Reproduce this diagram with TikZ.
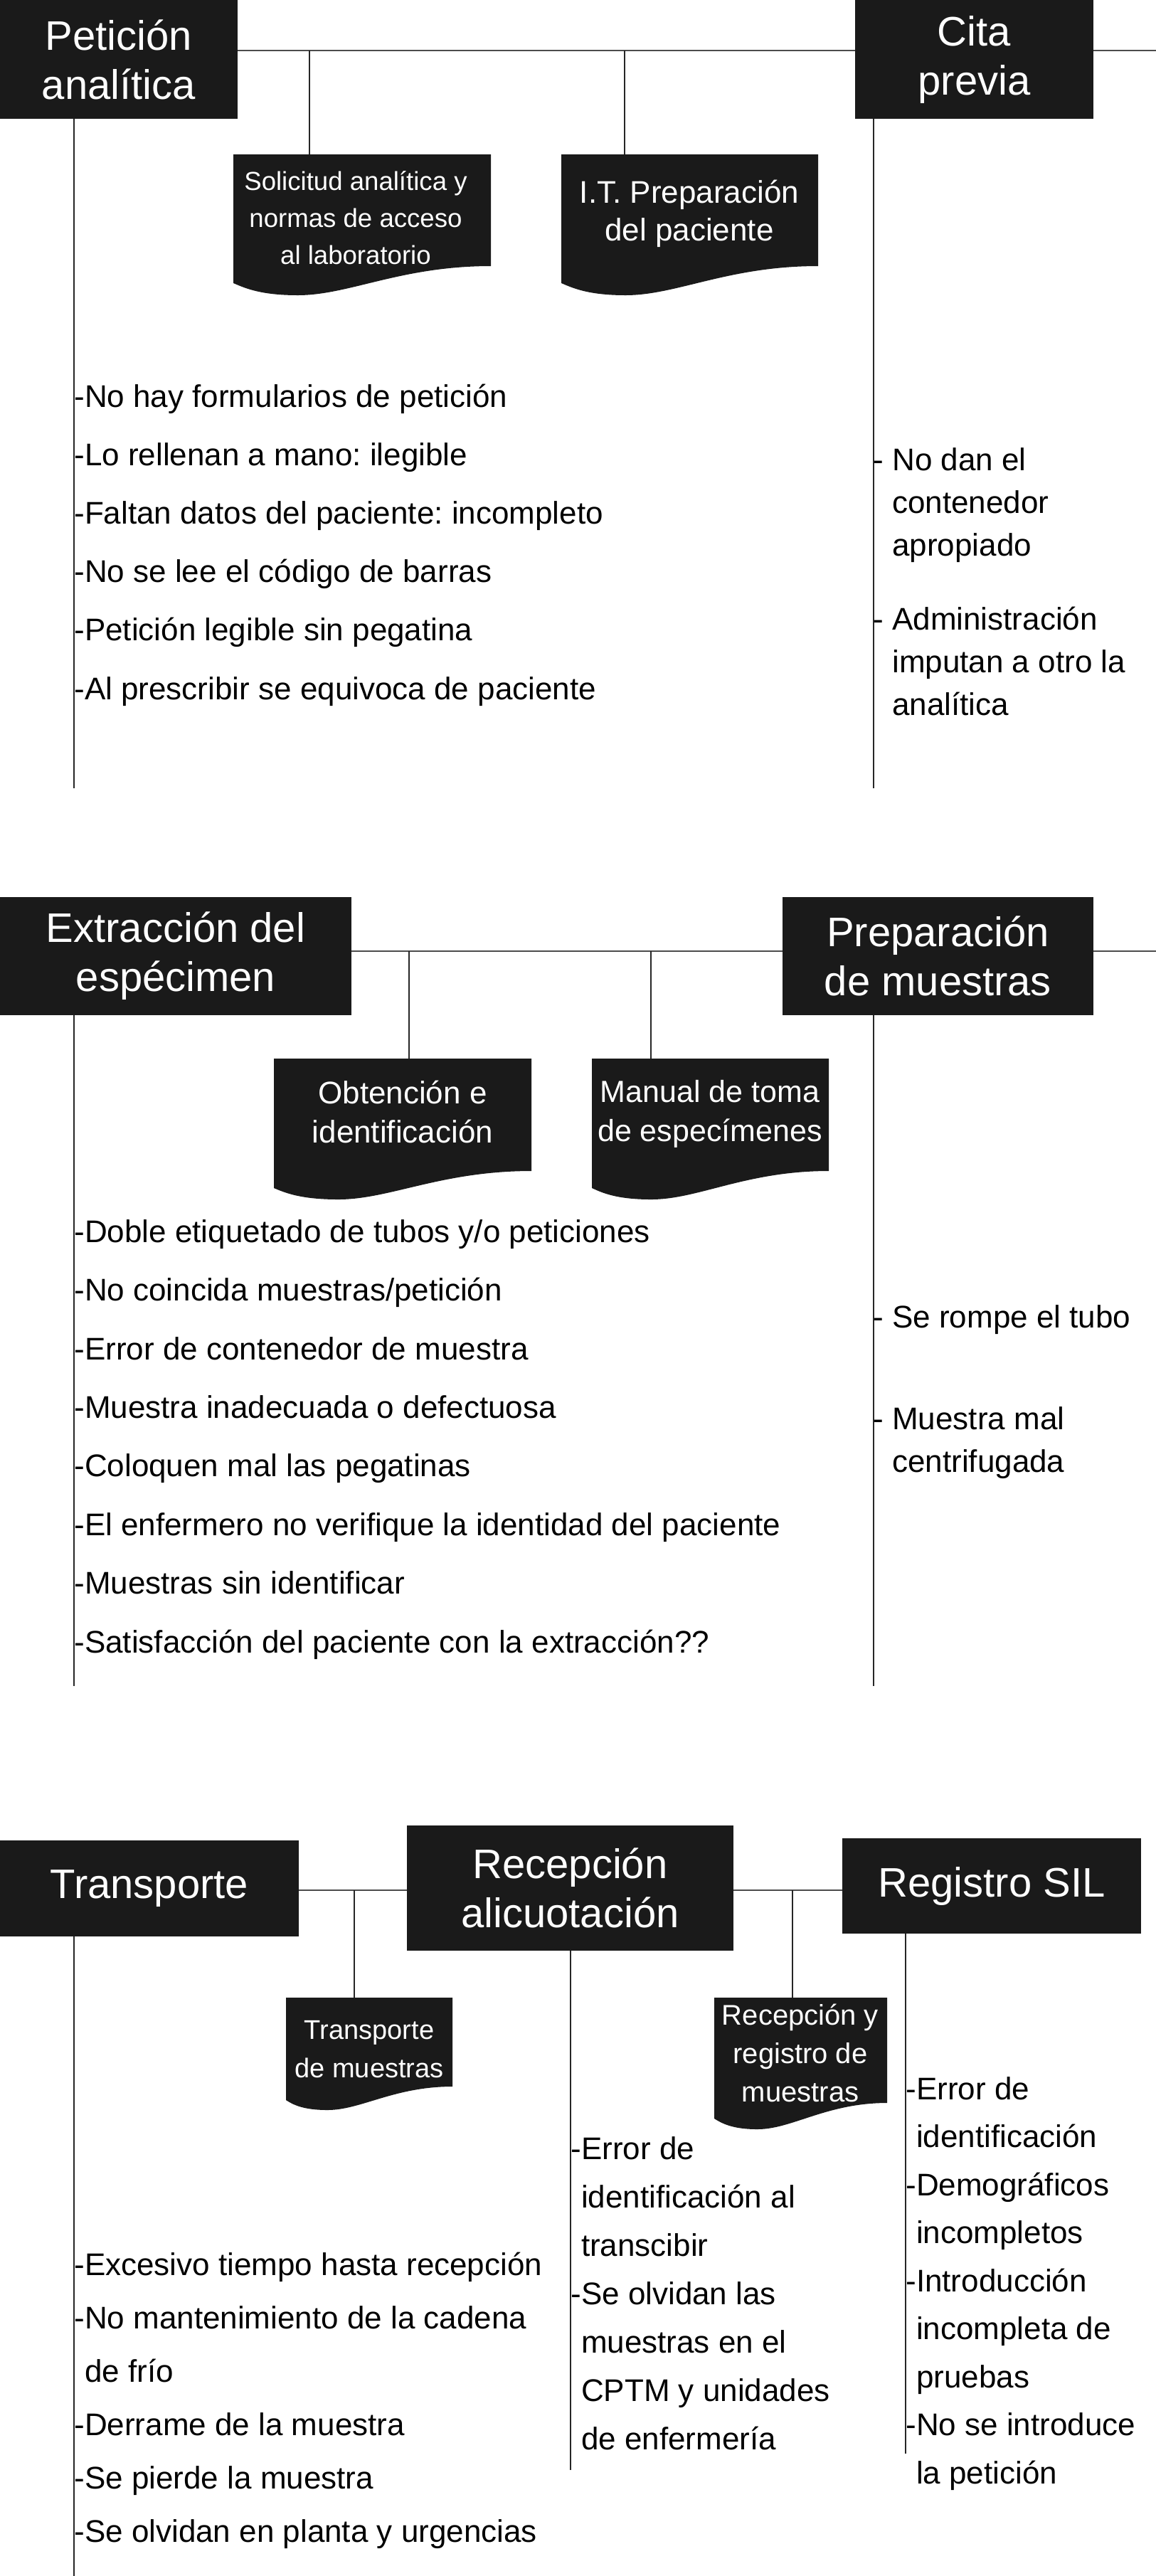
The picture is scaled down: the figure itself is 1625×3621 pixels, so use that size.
\documentclass[tikz,border=0pt]{standalone}
\usepackage{fontspec}
\setmainfont{Liberation Sans}
\usetikzlibrary{calc, positioning}
\frenchspacing

\definecolor{boxblack}{HTML}{1A1A1A}

\begin{document}
\begin{tikzpicture}[x=0.5pt, y=-0.5pt,
  stage/.style={fill=boxblack, text=white, align=center, inner sep=0pt,
    font=\fontsize{29}{34.5}\selectfont},
  doctext/.style={text=white, align=center, inner sep=0pt},
  % anchored at the baseline of the last line
  item/.style={anchor=base west, align=left, inner sep=0pt,
    font=\fontsize{22}{#1}\selectfont},
  spine/.style={line width=1.2pt, black!70},
  branch/.style={line width=1pt, black!85}]

% document shape: x left, x right, top, right bottom, left bottom, lowest point
\def\docshape#1#2#3#4#5#6{%
  \fill[boxblack] (#1,#3) -- (#2,#3) -- (#2,#4)
    .. controls ({#2-0.35*(#2-#1)},#4) and ({#1+0.45*(#2-#1)},#6) .. ({#1+0.25*(#2-#1)},#6)
    .. controls ({#1+0.1*(#2-#1)},#6) and ({#1+0.04*(#2-#1)},{#5+6}) .. (#1,#5) -- cycle;}

\fill[white] (0,0) rectangle (1625,3621);
\useasboundingbox (0,0) rectangle (1625,3621);

%%%%%%%%%%%%%%%% Peticion / Cita previa
\node[stage, minimum width=167pt, minimum height=83.5pt] (pa) at (167,83.5) {Petición\\analítica};
\node[stage, minimum width=167.5pt, minimum height=83.5pt] (cp) at (1369.5,83.5) {Cita\\previa};

\coordinate (s1) at (0,71);
\coordinate (s1e) at (1625,71);
\draw[spine] (pa.east |- s1) -- (cp.west |- s1);
\draw[spine] (cp.east |- s1) -- (s1e);

% documents
\docshape{328}{690}{217}{374}{398}{415}
\docshape{789}{1150}{217}{374}{398}{415}
\node[doctext, font=\fontsize{18.3}{26}\selectfont] (sol) at (500,306)
  {Solicitud analítica y\\normas de acceso\\al laboratorio};
\node[doctext, font=\fontsize{22}{26.5}\selectfont] (itp) at (969,300)
  {I.T. Preparación\\del paciente};

\coordinate (b1) at (435,71);
\coordinate (soltop) at (435,217);
\coordinate (b2) at (878,71);
\coordinate (itptop) at (878,217);
\draw[branch] (b1) -- (soltop);
\draw[branch] (b2) -- (itptop);

% causes
\coordinate (pav) at (104,1108);
\coordinate (cpv) at (1228,1108);
\draw[branch] (pav |- pa.south) -- (pav);
\draw[branch] (cpv |- cp.south) -- (cpv);

\node[item=41.1] (pal) at (104,983) {-No hay formularios de petición\\
  -Lo rellenan a mano: ilegible\\
  -Faltan datos del paciente: incompleto\\
  -No se lee el código de barras\\
  -Petición legible sin pegatina\\
  -Al prescribir se equivoca de paciente};
\node[item=30] (cpl1) at (1227,781) {- No dan el\\\phantom{- }contenedor\\\phantom{- }apropiado};
\node[item=30] (cpl2) at (1227,1005) {- Administración\\\phantom{- }imputan a otro la\\\phantom{- }analítica};

%%%%%%%%%%%%%%%% Extraccion / Preparacion
\node[stage, minimum width=247pt, minimum height=83pt] (ee) at (247,1344) {Extracción del\\espécimen};
\node[stage, minimum width=218.5pt, minimum height=83pt] (pm) at (1318.5,1344) {Preparación\\de muestras};

\coordinate (s2) at (0,1337);
\coordinate (s2e) at (1625,1337);
\draw[spine] (ee.east |- s2) -- (pm.west |- s2);
\draw[spine] (pm.east |- s2) -- (s2e);

% documents
\docshape{385}{747}{1488}{1646}{1670}{1686}
\docshape{832}{1165}{1488}{1646}{1670}{1686}
\node[doctext, font=\fontsize{22}{27.5}\selectfont] (obt) at (566,1563)
  {Obtención e\\identificación};
\node[doctext, font=\fontsize{21.5}{27.5}\selectfont] (man) at (998,1566)
  {Manual de toma\\de especímenes};

\coordinate (b3) at (575,1337);
\coordinate (obttop) at (575,1488);
\coordinate (b4) at (915,1337);
\coordinate (mantop) at (915,1488);
\draw[branch] (b3) -- (obttop);
\draw[branch] (b4) -- (mantop);

% causes
\coordinate (eev) at (104,2370);
\coordinate (pmv) at (1228,2370);
\draw[branch] (eev |- ee.south) -- (eev);
\draw[branch] (pmv |- pm.south) -- (pmv);

\node[item=41.2] (eel) at (104,2323) {-Doble etiquetado de tubos y/o peticiones\\
  -No coincida muestras/petición\\
  -Error de contenedor de muestra\\
  -Muestra inadecuada o defectuosa\\
  -Coloquen mal las pegatinas\\
  -El enfermero no verifique la identidad del paciente\\
  -Muestras sin identificar\\
  -Satisfacción del paciente con la extracción??};
\node[item=30] (pml1) at (1227,1866) {- Se rompe el tubo};
\node[item=30] (pml2) at (1227,2069) {- Muestra mal\\\phantom{- }centrifugada};

%%%%%%%%%%%%%%%% Transporte / Recepcion / Registro
\node[stage, minimum width=210pt, minimum height=67.5pt] (tr) at (210,2654.5) {Transporte};
\node[stage, minimum width=229.5pt, minimum height=88pt] (ra) at (801.5,2654) {Recepción\\alicuotación};
\node[stage, minimum width=210pt, minimum height=67pt] (rs) at (1394,2651) {Registro SIL};

\coordinate (s3) at (0,2657);
\draw[spine] (tr.east |- s3) -- (ra.west |- s3);
\draw[spine] (ra.east |- s3) -- (rs.west |- s3);

% documents
\docshape{402}{636}{2808}{2933}{2952}{2966}
\docshape{1004}{1247}{2808}{2956}{2978}{2993}
\node[doctext, font=\fontsize{19}{27}\selectfont] (trm) at (519,2881)
  {Transporte\\de muestras};
\node[doctext, font=\fontsize{20}{27}\selectfont] (rrm) at (1125,2886)
  {Recepción y\\registro de\\muestras};

\coordinate (b5) at (498,2657);
\coordinate (trmtop) at (498,2808);
\coordinate (b6) at (1114,2657);
\coordinate (rrmtop) at (1114,2808);
\draw[branch] (b5) -- (trmtop);
\draw[branch] (b6) -- (rrmtop);

% causes
\coordinate (trv) at (104,3621);
\coordinate (rav) at (802,3472);
\coordinate (rsv) at (1273,3449);
\draw[branch] (trv |- tr.south) -- (trv);
\draw[branch] (rav |- ra.south) -- (rav);
\draw[branch] (rsv |- rs.south) -- (rsv);

\node[item=37.5] (trl) at (104,3573) {-Excesivo tiempo hasta recepción\\
  -No mantenimiento de la cadena\\
  \phantom{-}de frío\\
  -Derrame de la muestra\\
  -Se pierde la muestra\\
  -Se olvidan en planta y urgencias};
\node[item=34] (ral) at (802,3443) {-Error de\\
  \phantom{-}identificación al\\
  \phantom{-}transcibir\\
  -Se olvidan las\\
  \phantom{-}muestras en el\\
  \phantom{-}CPTM y unidades\\
  \phantom{-}de enfermería};
\node[item=33.75] (rsl) at (1273,3491) {-Error de\\
  \phantom{-}identificación\\
  -Demográficos\\
  \phantom{-}incompletos\\
  -Introducción\\
  \phantom{-}incompleta de\\
  \phantom{-}pruebas\\
  -No se introduce\\
  \phantom{-}la petición};
\end{tikzpicture}
\end{document}
